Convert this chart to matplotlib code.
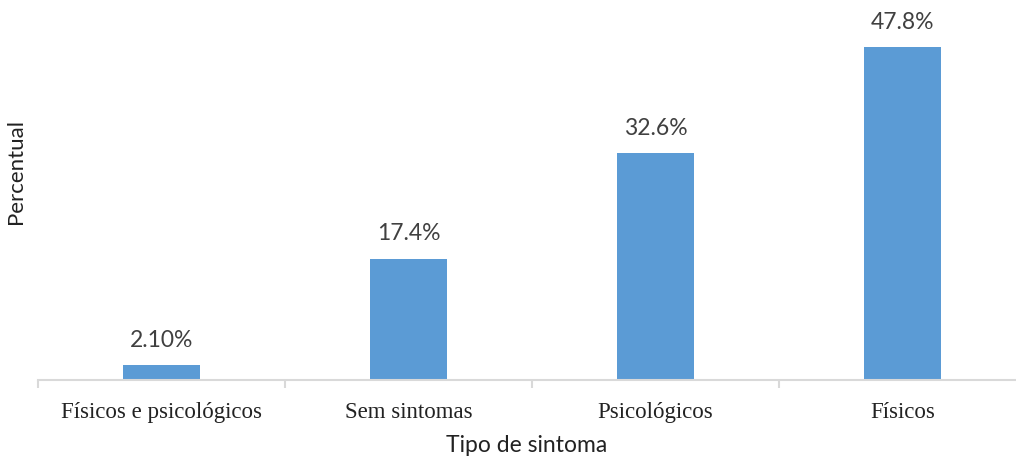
import matplotlib
matplotlib.use('Agg')
import matplotlib.pyplot as plt

categorias = ['Físicos e psicológicos', 'Sem sintomas', 'Psicológicos', 'Físicos']
percentual = [2.10, 17.4, 32.6, 47.8]
rotulos = ['2.10%', '17.4%', '32.6%', '47.8%']

W, H = 1016, 460
fig = plt.figure(figsize=(W / 100, H / 100), dpi=100)
left, right = 38, 1016
base, top = 381, 32.5
ax = fig.add_axes([left / W, (H - base) / H, (right - left) / W, (base - top) / H])

pos = range(len(categorias))
ax.bar(pos, percentual, width=0.31, color='#5B9BD5', zorder=2)

sans = ['Lato', 'DejaVu Sans']
for x, v, t in zip(pos, percentual, rotulos):
    ax.annotate(t, (x, v), xytext=(0, 11), textcoords='offset points',
                ha='center', va='bottom', fontsize=16.5, color='#404040',
                family=sans)

ax.set_xlim(-0.5, 3.46)
ax.set_ylim(0, 50)

for s in ['top', 'right', 'left']:
    ax.spines[s].set_visible(False)
ax.spines['bottom'].set_color('#D9D9D9')
ax.spines['bottom'].set_linewidth(1.5)

ax.set_yticks([])
ax.set_xticks([-0.5, 0.5, 1.5, 2.5])
ax.set_xticklabels([])
ax.tick_params(axis='x', which='major', length=6, width=1.5, color='#D9D9D9')
ax.set_xticks(list(pos), minor=True)
ax.set_xticklabels(categorias, minor=True, family='Liberation Serif',
                   fontsize=16.5, color='#222222')
ax.tick_params(axis='x', which='minor', length=0, pad=15)

ax.set_xlabel('Tipo de sintoma', fontsize=16.5, color='#222222',
              family=sans, labelpad=9)
ax.set_ylabel('Percentual', fontsize=16, color='#222222', family=sans)
ax.yaxis.set_label_coords(-0.012, 0.6)

fig.savefig('out.png', dpi=100)
